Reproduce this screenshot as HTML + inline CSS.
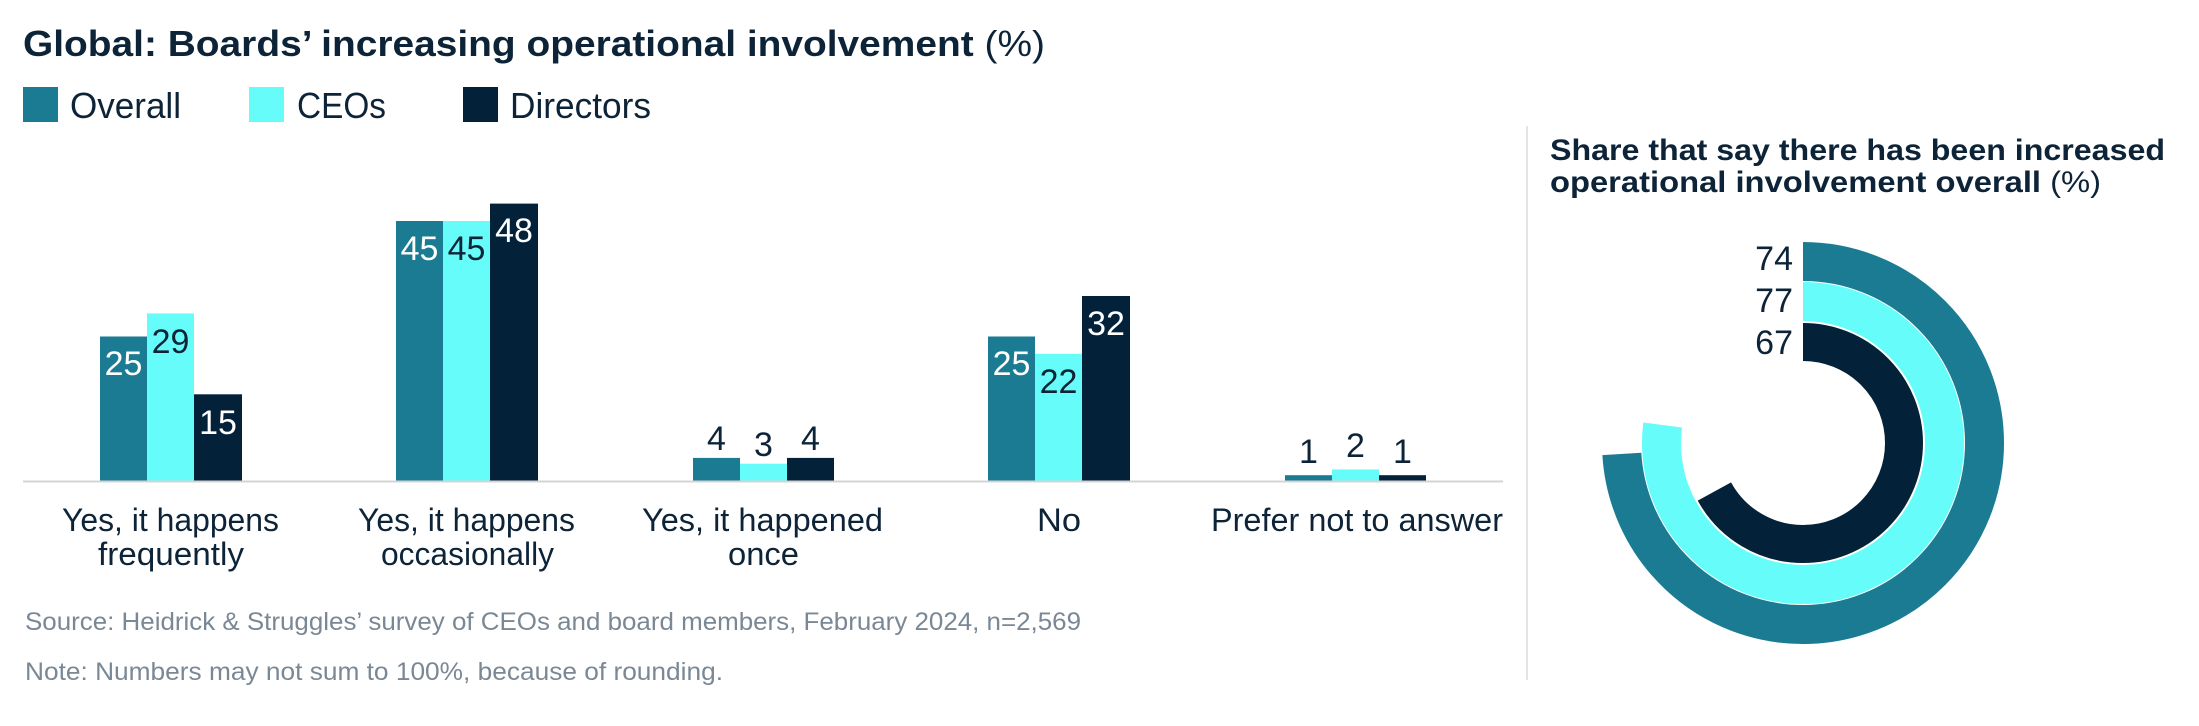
<!DOCTYPE html>
<html><head><meta charset="utf-8"><style>
html,body{margin:0;padding:0;background:#fff;}
svg{display:block;}
text{font-family:"Liberation Sans",sans-serif;}
</style></head><body>
<svg width="2199" height="726" viewBox="0 0 2199 726" xmlns="http://www.w3.org/2000/svg">
<!-- Title -->
<text x="23" y="56" font-size="36" font-weight="bold" fill="#0d2438" textLength="1022" lengthAdjust="spacingAndGlyphs">Global: Boards’ increasing operational involvement <tspan font-weight="normal">(%)</tspan></text>
<!-- Legend -->
<rect x="23" y="87" width="35" height="35" fill="#1a7b92"/>
<text x="70" y="118" font-size="36" fill="#0d2438" textLength="111" lengthAdjust="spacingAndGlyphs">Overall</text>
<rect x="249" y="87" width="35" height="35" fill="#66fcf9"/>
<text x="297" y="118" font-size="36" fill="#0d2438" textLength="89" lengthAdjust="spacingAndGlyphs">CEOs</text>
<rect x="463" y="87" width="35" height="35" fill="#03223a"/>
<text x="510" y="118" font-size="36" fill="#0d2438" textLength="141" lengthAdjust="spacingAndGlyphs">Directors</text>

<!-- Bars: scale 5.78/unit, baseline 481 -->
<g>
<rect x="100" y="336.5" width="47" height="144.5" fill="#1a7b92"/>
<rect x="147" y="313.4" width="47" height="167.6" fill="#66fcf9"/>
<rect x="194" y="394.3" width="48" height="86.7" fill="#03223a"/>

<rect x="396" y="221" width="47" height="260" fill="#1a7b92"/>
<rect x="443" y="221" width="47" height="260" fill="#66fcf9"/>
<rect x="490" y="203.6" width="48" height="277.4" fill="#03223a"/>

<rect x="693" y="457.9" width="47" height="23.1" fill="#1a7b92"/>
<rect x="740" y="463.7" width="47" height="17.3" fill="#66fcf9"/>
<rect x="787" y="457.9" width="47" height="23.1" fill="#03223a"/>

<rect x="988" y="336.5" width="47" height="144.5" fill="#1a7b92"/>
<rect x="1035" y="353.8" width="47" height="127.2" fill="#66fcf9"/>
<rect x="1082" y="296" width="48" height="185" fill="#03223a"/>

<rect x="1285" y="475.2" width="47" height="5.8" fill="#1a7b92"/>
<rect x="1332" y="469.4" width="47" height="11.6" fill="#66fcf9"/>
<rect x="1379" y="475.2" width="47" height="5.8" fill="#03223a"/>
</g>
<line x1="23" y1="481.5" x2="1503" y2="481.5" stroke="#d4d4d4" stroke-width="2"/>

<!-- value labels -->
<g font-size="34" text-anchor="middle">
<text x="123.5" y="375" fill="#fff">25</text>
<text x="170.5" y="353" fill="#0d2438">29</text>
<text x="218" y="434" fill="#fff">15</text>
<text x="419.5" y="260" fill="#fff">45</text>
<text x="466.5" y="260" fill="#0d2438">45</text>
<text x="514" y="242" fill="#fff">48</text>
<text x="716.5" y="450" fill="#0d2438">4</text>
<text x="763.5" y="456" fill="#0d2438">3</text>
<text x="810.5" y="450" fill="#0d2438">4</text>
<text x="1011.5" y="375" fill="#fff">25</text>
<text x="1058.5" y="393" fill="#0d2438">22</text>
<text x="1106" y="335" fill="#fff">32</text>
<text x="1308.5" y="463" fill="#0d2438">1</text>
<text x="1355.5" y="457" fill="#0d2438">2</text>
<text x="1402.5" y="463" fill="#0d2438">1</text>
</g>

<!-- category labels -->
<g font-size="32" fill="#0d2438">
<text x="62" y="531" textLength="217" lengthAdjust="spacingAndGlyphs">Yes, it happens</text>
<text x="98" y="565" textLength="146" lengthAdjust="spacingAndGlyphs">frequently</text>
<text x="358" y="531" textLength="217" lengthAdjust="spacingAndGlyphs">Yes, it happens</text>
<text x="381" y="565" textLength="173" lengthAdjust="spacingAndGlyphs">occasionally</text>
<text x="642" y="531" textLength="241" lengthAdjust="spacingAndGlyphs">Yes, it happened</text>
<text x="728" y="565" textLength="71" lengthAdjust="spacingAndGlyphs">once</text>
<text x="1037" y="531" textLength="44" lengthAdjust="spacingAndGlyphs">No</text>
<text x="1211" y="531" textLength="292" lengthAdjust="spacingAndGlyphs">Prefer not to answer</text>
</g>

<!-- source & note -->
<text x="25" y="630" font-size="25" fill="#7a8896" textLength="1056" lengthAdjust="spacingAndGlyphs">Source: Heidrick &amp; Struggles’ survey of CEOs and board members, February 2024, n=2,569</text>
<text x="25" y="680" font-size="25" fill="#7a8896" textLength="698" lengthAdjust="spacingAndGlyphs">Note: Numbers may not sum to 100%, because of rounding.</text>

<!-- divider -->
<line x1="1527" y1="126" x2="1527" y2="680" stroke="#dcdcdc" stroke-width="1.5"/>

<!-- right title -->
<text x="1550" y="160" font-size="30" font-weight="bold" fill="#0d2438" textLength="615" lengthAdjust="spacingAndGlyphs">Share that say there has been increased</text>
<text x="1550" y="192" font-size="30" font-weight="bold" fill="#0d2438" textLength="551" lengthAdjust="spacingAndGlyphs">operational involvement overall <tspan font-weight="normal">(%)</tspan></text>

<!-- rings -->
<g transform="rotate(-90 1803 443)" fill="none">
<circle cx="1803" cy="443" r="181.5" stroke="#1a7b92" stroke-width="39" stroke-dasharray="843.9 2000"/>
<circle cx="1803" cy="443" r="141.5" stroke="#66fcf9" stroke-width="39" stroke-dasharray="684.6 2000"/>
<circle cx="1803" cy="443" r="101" stroke="#03223a" stroke-width="38" stroke-dasharray="425.2 2000"/>
</g>
<g font-size="34" fill="#0d2438" text-anchor="end">
<text x="1793" y="270">74</text>
<text x="1793" y="312">77</text>
<text x="1793" y="354">67</text>
</g>
</svg>
</body></html>
